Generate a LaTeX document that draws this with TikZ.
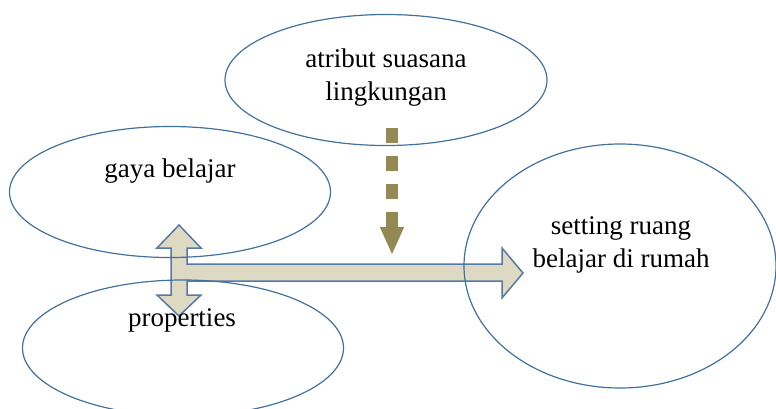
\documentclass[tikz,border=0pt]{standalone}
\usepackage{fontspec}
\setmainfont{Liberation Serif}
\usetikzlibrary{arrows.meta,shapes.geometric}
\definecolor{ovalblue}{HTML}{41719C}
\definecolor{arrowfill}{HTML}{DDD9C3}
\definecolor{arrowline}{HTML}{5679A3}
\definecolor{olive}{HTML}{938953}

\begin{document}
\begin{tikzpicture}[x=1pt,y=-1pt,
  oval/.style={draw=ovalblue,line width=1.2pt,ellipse,inner sep=0pt},
  label text/.style={font=\fontsize{27}{33}\selectfont,align=center,inner sep=0pt},
  tarrow/.style={draw=arrowline,fill=arrowfill,line width=1.5pt,line join=miter},
  dasharrow/.style={olive,line width=12pt,dash pattern=on 15pt off 13pt,
    -{Triangle[width=22pt,length=28pt]}}]
\useasboundingbox (0,0) rectangle (776,408);
% arrows first, the ovals are drawn over them
\coordinate (hub) at (179,272);
\draw[tarrow] (hub) ++(0,-47) -- ++(22,23) -- ++(-14,0) -- ++(0,16) -- ++(315,0)
  -- ++(0,-16) -- ++(21,25) -- ++(-21,25) -- ++(0,-17) -- ++(-315,0) -- ++(0,14)
  -- ++(14,0) -- ++(-22,21) -- ++(-22,-21) -- ++(14,0) -- ++(0,-47) -- ++(-14,0) -- cycle;
\coordinate (dtop) at (392,128);
\coordinate (dtip) at (392,255);
\draw[dasharrow] (dtop) -- (dtip);
% ovals
\node[oval,minimum width=322pt,minimum height=131pt] (atribut) at (386,80) {};
\node[oval,minimum width=321pt,minimum height=131pt] (gaya) at (170,192) {};
\node[oval,minimum width=321pt,minimum height=136pt] (prop) at (183,348) {};
\node[oval,minimum width=312pt,minimum height=244pt] (setting) at (620,266) {};
% texts
\node[label text] (atributtxt) at (386,78) {atribut suasana\\lingkungan};
\node[label text] (gayatxt) at (170,171) {gaya belajar};
\node[label text] (proptxt) at (182,320) {properties};
\node[label text] (settingtxt) at (621,245) {setting ruang\\belajar di rumah};
\end{tikzpicture}
\end{document}
